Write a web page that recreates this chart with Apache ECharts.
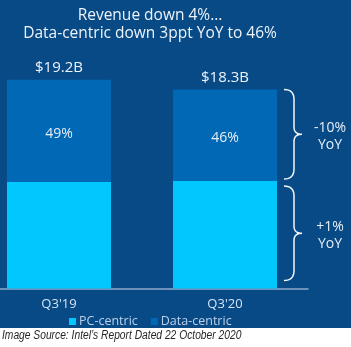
<!DOCTYPE html>
<html>
<head>
<meta charset="utf-8">
<script src="https://cdn.jsdelivr.net/npm/echarts@6/dist/echarts.min.js"></script>
<style>
  html, body { margin: 0; padding: 0; background: #ffffff; overflow: hidden; }
  /* the plot is widened to the left so the first bar sits close to the edge */
  #chart { position: absolute; left: -24px; top: 0; width: 375px; height: 347px; }
</style>
</head>
<body>
<div id="chart"></div>
<script>
// Quarterly revenue split (USD billions) and the data-centric share of each quarter
const quarters = ["Q3'19", "Q3'20"];
const totalRevenue = [19.2, 18.3];
const dataCentricShare = [49, 46];
const totalLabels = ["$19.2B", "$18.3B"];
const yoyLabels = ["-10%", "+1%"];
const titleLines = ["Revenue down 4%...", "Data-centric down 3ppt YoY to 46%"];

const dataCentric = totalRevenue.map((t, i) => +(t * dataCentricShare[i] / 100).toFixed(3));
const pcCentric = totalRevenue.map((t, i) => +(t - dataCentric[i]).toFixed(3));

const OX = 24; // horizontal offset of the chart canvas
const BG = '#074a86';
const DATA_BLUE = '#0068b5';
const PC_CYAN = '#00c7fd';
const FONT = '"Open Sans", sans-serif';

// Brace segments beside the latest quarter: [category, from, to, label index]
const last = quarters.length - 1;
const braceData = [
  [last, pcCentric[last], totalRevenue[last], 0],
  [last, 0, pcCentric[last], 1]
];

function quad(p0, p1, p2, n) {
  const pts = [];
  for (let k = 1; k <= n; k++) {
    const t = k / n, u = 1 - t;
    pts.push([u * u * p0[0] + 2 * u * t * p1[0] + t * t * p2[0],
              u * u * p0[1] + 2 * u * t * p1[1] + t * t * p2[1]]);
  }
  return pts;
}
function bracePoints(x0, y1, y2) {
  const xv = x0 + 10, xt = x0 + 18, m = (y1 + y2) / 2;
  let pts = [[x0, y1]];
  pts = pts.concat(quad([x0, y1], [xv, y1], [xv, y1 + 10], 8));
  pts.push([xv, m - 7]);
  pts = pts.concat(quad([xv, m - 7], [xv, m], [xt, m], 6));
  pts = pts.concat(quad([xt, m], [xv, m], [xv, m + 7], 6));
  pts.push([xv, y2 - 10]);
  pts = pts.concat(quad([xv, y2 - 10], [xv, y2], [x0, y2], 8));
  return pts;
}

const chart = echarts.init(document.getElementById('chart'), null, { renderer: 'canvas' });

chart.setOption({
  backgroundColor: '#ffffff',
  animation: false,
  textStyle: { fontFamily: FONT },
  title: {
    text: titleLines.join('\n'),
    left: 145 + OX, top: 2, textAlign: 'center',
    textStyle: { color: '#eef3fa', fontSize: 15.5, fontWeight: 'normal', lineHeight: 18, fontFamily: FONT }
  },
  legend: {
    data: ['PC-centric', 'Data-centric'],
    left: 64 + OX, top: 310,
    icon: 'rect', itemWidth: 7, itemHeight: 7, itemGap: 13,
    textStyle: { color: '#bcd0ea', fontSize: 12.5, fontFamily: FONT, padding: [0, 0, 0, -2] }
  },
  grid: { left: 0, right: 43, top: 71, bottom: 58.5 },
  xAxis: {
    type: 'category',
    data: quarters,
    axisTick: { show: false },
    axisLine: { lineStyle: { color: '#8ea9cc', width: 1.5 } },
    axisLabel: { color: '#d6e2f2', fontSize: 13, margin: 9, fontFamily: FONT }
  },
  yAxis: {
    type: 'value', min: 0, max: 20, show: false,
    splitLine: { show: false }
  },
  graphic: [
    { type: 'rect', z: -10, silent: true, shape: { x: 0, y: 0, width: 351 + OX, height: 328 }, style: { fill: BG } },
    {
      // condensed italic source line under the panel
      type: 'text', x: 2 + OX, y: 330, scaleX: 0.855, silent: true,
      style: { text: 'Image Source: Intel\u2019s Report Dated 22 October 2020', fill: '#262626',
               font: 'italic 12px "Liberation Sans", sans-serif' }
    }
  ],
  series: [
    {
      name: 'PC-centric', type: 'bar', stack: 'rev',
      data: pcCentric, barWidth: 104,
      itemStyle: { color: PC_CYAN }
    },
    {
      name: 'Data-centric', type: 'bar', stack: 'rev',
      data: dataCentric, barWidth: 104,
      itemStyle: { color: DATA_BLUE },
      label: {
        show: true, position: 'inside', offset: [0, 3],
        color: '#e6eef8', fontSize: 14, fontFamily: FONT,
        formatter: p => dataCentricShare[p.dataIndex] + '%'
      }
    },
    {
      // total labels sitting on top of each stack
      name: 'total', type: 'bar', stack: 'rev',
      data: totalRevenue.map(() => 0), barWidth: 104,
      itemStyle: { color: 'transparent' },
      label: {
        show: true, position: 'top', distance: 4,
        color: '#eef3fa', fontSize: 15, fontFamily: FONT,
        formatter: p => totalLabels[p.dataIndex]
      }
    },
    {
      // braces with the year-over-year change of each segment
      name: 'yoy', type: 'custom',
      data: braceData,
      silent: true,
      renderItem: (params, api) => {
        const cat = api.value(0);
        const top = api.coord([cat, api.value(2)]);
        const bot = api.coord([cat, api.value(1)]);
        const idx = api.value(3);
        const y1 = idx === 0 ? top[1] : top[1] + 5;
        const y2 = idx === 0 ? bot[1] - 2 : bot[1] - 8;
        const x0 = top[0] + 52 + 7;
        const m = (y1 + y2) / 2;
        return {
          type: 'group',
          children: [
            {
              type: 'polyline',
              shape: { points: bracePoints(x0, y1, y2) },
              style: { stroke: '#f2f6fb', lineWidth: 1.5, fill: null }
            },
            {
              type: 'text',
              x: 330 + OX, y: m + 2,
              style: { text: yoyLabels[idx] + '\nYoY', fill: '#e6eef8', font: '14px ' + FONT,
                       align: 'center', verticalAlign: 'middle', lineHeight: 17 }
            }
          ]
        };
      }
    }
  ]
});
</script>
</body>
</html>
